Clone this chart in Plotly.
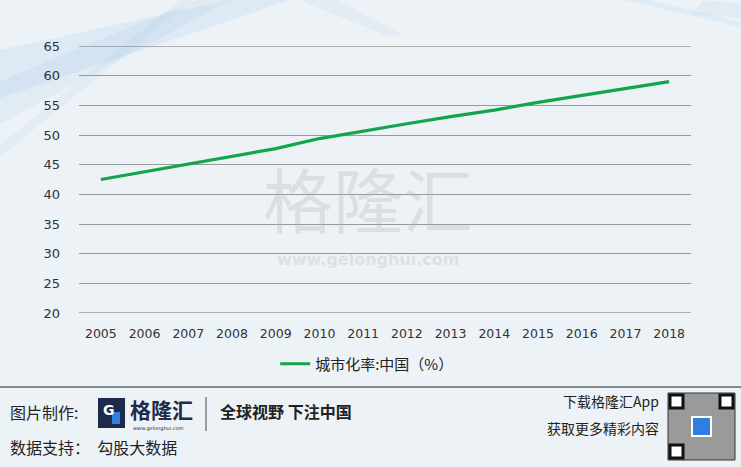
import plotly.graph_objects as go

# ---------------- Data ----------------
years = ["2005", "2006", "2007", "2008", "2009", "2010", "2011",
         "2012", "2013", "2014", "2015", "2016", "2017", "2018"]
urban_rate = [42.5, 43.8, 45.1, 46.4, 47.7, 49.4, 50.7,
              51.9, 53.1, 54.2, 55.5, 56.7, 57.9, 59.0]
y_ticks = [20, 25, 30, 35, 40, 45, 50, 55, 60, 65]
series_name = "城市化率:中国（%）"

W, H = 741, 467
L, R, T, B = 79, 50, 46, 154
PW, PH = W - L - R, H - T - B

CJK = "Noto Sans CJK SC"
GREEN = "#14a44d"
NAVY = "#1c2b4a"
GRID = "#999999"


def px(x):
    return (x - L) / PW


def py(y):
    return (H - B - y) / PH


fig = go.Figure()
fig.add_trace(go.Scatter(
    x=years, y=urban_rate, mode="lines", name=series_name,
    line=dict(color=GREEN, width=3.2),
))

shapes = []
annotations = []

# background streaks (decoration)
streaks = [
    ("M -0.2 0.95 L 0.3 1.2 L 0.38 1.2 L -0.2 0.75 Z", "rgba(160,200,238,0.2)"),
    ("M -0.2 0.8 L 0.22 1.2 L 0.27 1.2 L -0.2 0.62 Z", "rgba(160,200,238,0.16)"),
    ("M -0.2 0.5 L 0.18 1.2 L 0.2 1.2 L -0.2 0.45 Z", "rgba(160,200,238,0.12)"),
    ("M 0.33 1.2 L 0.5 1.04 L 0.53 1.04 L 0.4 1.2 Z", "rgba(160,200,238,0.12)"),
    ("M 0.88 1.2 L 1.1 1.08 L 1.1 1.06 L 0.84 1.2 Z", "rgba(175,210,240,0.22)"),
    ("M 1.0 1.12 L 1.1 1.1 L 1.1 1.16 L 1.02 1.17 Z", "rgba(175,210,240,0.2)"),
    ("M 0.75 -0.95 L 1.1 -0.68 L 1.1 -0.72 L 0.82 -0.98 Z", "rgba(175,210,240,0.15)"),
]
for path, col in streaks:
    shapes.append(dict(type="path", path=path, xref="paper", yref="paper",
                       fillcolor=col, line=dict(width=0), layer="below"))

# plotly drops gridlines sitting on the range edges, so draw those two by hand
for edge in (y_ticks[0], y_ticks[-1]):
    shapes.append(dict(type="line", xref="paper", yref="y", x0=0, x1=1,
                       y0=edge, y1=edge, line=dict(color=GRID, width=1.3), layer="below"))

# watermark
annotations.append(dict(x=px(368), y=py(197), xref="paper", yref="paper",
                        text="格隆汇", showarrow=False,
                        font=dict(family=CJK, size=70, color="rgba(175,180,185,0.3)")))
annotations.append(dict(x=px(368), y=py(271), xref="paper", yref="paper",
                        text="<b>www.gelonghui.com</b>", showarrow=False,
                        font=dict(family="DejaVu Sans", size=16, color="rgba(175,180,185,0.3)")))

# footer rule
shapes.append(dict(type="line", xref="paper", yref="paper",
                   x0=px(0), x1=px(W), y0=py(387), y1=py(387),
                   line=dict(color="#222222", width=1.2)))


def note(x, y, text, size, color="#222222", xanchor="left", family=CJK):
    annotations.append(dict(x=px(x), y=py(y), xref="paper", yref="paper",
                            text=text, showarrow=False, xanchor=xanchor,
                            yanchor="middle", font=dict(family=family, size=size, color=color)))


note(8, 412, "图片制作:", 16)
note(8, 447, "数据支持：  勾股大数据", 16)
note(128, 409, "<b>格隆汇</b>", 21, NAVY)
note(131, 428, "www.gelonghui.com", 5, NAVY, family="DejaVu Sans")
note(218, 411, "<b>全球视野 下注中国</b>", 16)
note(661, 401, "下载格隆汇App", 14, xanchor="right")
note(661, 428, "获取更多精彩内容", 14, xanchor="right")

# logo G box
shapes.append(dict(type="rect", xref="paper", yref="paper",
                   x0=px(98), x1=px(125), y0=py(428), y1=py(398),
                   fillcolor=NAVY, line=dict(width=0)))
shapes.append(dict(type="rect", xref="paper", yref="paper",
                   x0=px(112), x1=px(120), y0=py(424), y1=py(412),
                   fillcolor="#2f7fe0", line=dict(width=0)))
note(101, 410, "<b>G</b>", 14, "white", family="DejaVu Sans")
shapes.append(dict(type="line", xref="paper", yref="paper",
                   x0=px(206), x1=px(206), y0=py(397), y1=py(431),
                   line=dict(color="#444444", width=1)))

# QR code placeholder
shapes.append(dict(type="rect", xref="paper", yref="paper",
                   x0=px(668), x1=px(735), y0=py(460), y1=py(393),
                   fillcolor="#9a9a9a", line=dict(color="#333333", width=1)))
for (qx, qy) in [(668, 393), (718, 393), (668, 443)]:
    shapes.append(dict(type="rect", xref="paper", yref="paper",
                       x0=px(qx + 2), x1=px(qx + 15), y0=py(qy + 15), y1=py(qy + 2),
                       fillcolor="white", line=dict(color="#111111", width=3)))
shapes.append(dict(type="rect", xref="paper", yref="paper",
                   x0=px(692), x1=px(711), y0=py(436), y1=py(417),
                   fillcolor="#2f7fe0", line=dict(color="white", width=2)))

fig.update_layout(
    width=W, height=H,
    margin=dict(l=L, r=R, t=T, b=B, pad=0),
    paper_bgcolor="#edf2f6",
    plot_bgcolor="rgba(0,0,0,0)",
    font=dict(family=CJK, color="#333333", size=13),
    showlegend=True,
    legend=dict(orientation="h", x=0.47, xanchor="center", y=py(364), yanchor="middle",
                font=dict(family=CJK, size=15, color="#222222"),
                bgcolor="rgba(0,0,0,0)", itemwidth=30),
    xaxis=dict(type="category", range=[-0.5, 13.5], showgrid=False, zeroline=False,
               showline=False, ticks="", ticklabelstandoff=11,
               tickfont=dict(family="DejaVu Sans", size=12.5, color="#333333")),
    yaxis=dict(range=[20, 65], tickvals=y_ticks, showgrid=True,
               gridcolor=GRID, gridwidth=1.3, zeroline=False, showline=False,
               ticks="", ticklabelstandoff=18,
               tickfont=dict(family="DejaVu Sans", size=13, color="#333333")),
    shapes=shapes,
    annotations=annotations,
)

fig.write_html("out.html", config={"displayModeBar": False},
               post_script="document.body.style.margin='0';")
